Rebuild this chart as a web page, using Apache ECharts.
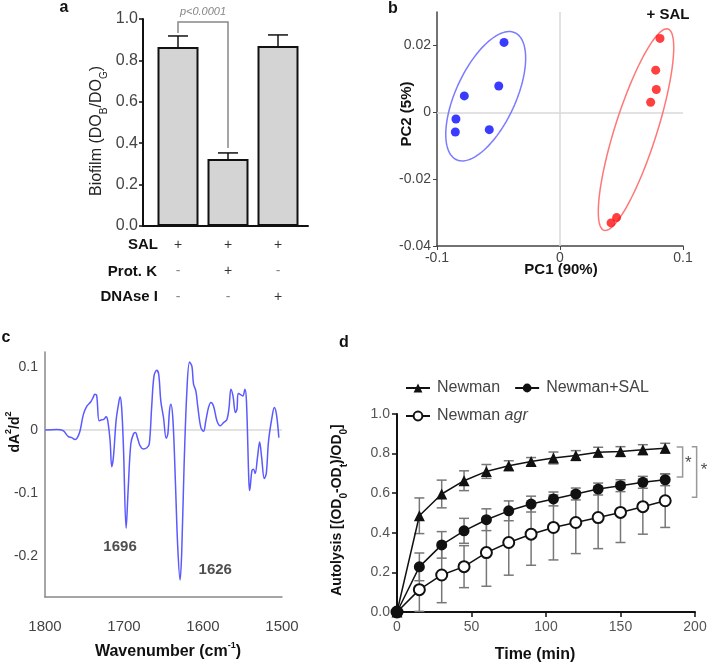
<!DOCTYPE html>
<html><head><meta charset="utf-8">
<script src="https://cdn.jsdelivr.net/npm/echarts@6/dist/echarts.min.js"></script>
<style>html,body{margin:0;padding:0;background:#fff}#main{width:708px;height:662px}</style>
</head><body><div id="main"></div>
<script>
// ---------- Panel a data ----------
const aPositions = [1, 2, 3];
const aMeans = [0.865, 0.324, 0.870];
const aErrors = [0.053, 0.029, 0.053];
const aRowLabels = ['SAL', 'Prot. K', 'DNAse I'];
const aSigns = [['+', '-', '-'], ['+', '+', '-'], ['+', '-', '+']];
const aBracket = [[1, 0.932], [1, 0.985], [2, 0.985], [2, 0.377]];
const aPLabel = [[1.5, 1.035]];
const aYTicks = [0, 0.2, 0.4, 0.6, 0.8, 1.0];

// ---------- Panel b data ----------
const bUntreated = [[-0.0455, 0.0209], [-0.0498, 0.00785], [-0.0778, 0.0049], [-0.0846, -0.0020], [-0.0851, -0.0059], [-0.0575, -0.0052]];
const bSAL = [[0.0813, 0.0221], [0.0778, 0.0126], [0.0783, 0.0068], [0.0737, 0.0030], [0.0460, -0.0315], [0.0415, -0.0331]];
const bBlueEllipseCenter = [-0.0604, 0.0048];
const bBlueEllipseAxisU = [0.0237, 0.0190];
const bBlueEllipseAxisV = [0.0222, -0.00362];
const bRedEllipseCenter = [0.0618, -0.0052];
const bRedEllipseAxisU = [0.0260, 0.0301];
const bRedEllipseAxisV = [0.01627, -0.00184];
const bXTicks = [-0.1, 0, 0.1];
const bYTicks = [-0.04, -0.02, 0, 0.02];

// ---------- Panel c data ----------
const cWavenumber = [1800,1785,1777,1770.4,1766,1762,1759,1755.6,1751.4,1747,1742,1739,1737,1734.6,1731.6,1729,1725.5,1722.7,1720.6,1717.6,1715.5,1713.4,1710,1707,1705,1703,1700.7,1697.3,1694.8,1691.4,1688,1685.5,1683,1679.6,1675.4,1671,1668,1665,1662,1658.5,1656,1653.4,1650,1646.6,1644.5,1642.4,1640.7,1638,1635,1632,1629,1627,1624,1620.4,1617,1614,1612,1609,1606.5,1602.7,1599.3,1596.4,1593,1590,1586.6,1582.4,1578,1573.9,1569.7,1567,1564.7,1562,1559,1557,1555.4,1552,1549.5,1547,1545,1542,1541,1538,1536,1534,1531,1528.3,1525.8,1522.4,1519.9,1517,1512.7,1509.7,1507,1504];
const cSecondDeriv = [0,0.001,-0.001,-0.0105,-0.012,-0.015,-0.012,-0.001,0.025,0.038,0.045,0.052,0.057,0.055,0.015,0.016,0.017,0.021,0.015,-0.017,-0.058,-0.043,0.015,0.041,0.053,0.036,-0.027,-0.156,-0.096,-0.022,-0.006,-0.004,-0.012,-0.025,-0.030,-0.028,-0.022,0.036,0.086,0.095,0.088,0.046,0.020,-0.013,-0.006,0.031,0.041,0.015,-0.080,-0.185,-0.238,-0.196,-0.059,0.062,0.108,0.101,0.073,0.062,0.036,0.004,-0.002,0.015,0.036,0.044,0.038,0.015,0.007,0.012,0.017,0.036,0.065,0.054,0.028,0.033,0.058,0.056,0.054,0.065,0.046,-0.080,-0.096,-0.064,-0.062,-0.069,-0.043,-0.019,-0.043,-0.077,-0.069,-0.017,0.020,0.036,0.025,-0.012];
const cPeakLabels = [{ name: '1696', value: [1705, -0.186] }, { name: '1626', value: [1584.5, -0.222] }];
const cXTicks = [1500, 1600, 1700, 1800];
const cYTicks = [-0.2, -0.1, 0, 0.1];

// ---------- Panel d data ----------
const dTime = [0, 15, 30, 45, 60, 75, 90, 105, 120, 135, 150, 165, 180];
const dNewman = [0, 0.486, 0.596, 0.663, 0.710, 0.739, 0.760, 0.778, 0.790, 0.807, 0.810, 0.820, 0.827];
const dNewmanErr = [0, 0.09, 0.07, 0.05, 0.035, 0.025, 0.02, 0.03, 0.025, 0.025, 0.025, 0.025, 0.025];
const dNewmanSAL = [0, 0.228, 0.339, 0.410, 0.466, 0.511, 0.545, 0.571, 0.596, 0.621, 0.638, 0.655, 0.668];
const dNewmanSALErr = [0, 0.07, 0.067, 0.063, 0.055, 0.05, 0.04, 0.035, 0.03, 0.03, 0.03, 0.03, 0.03];
const dNewmanAgr = [0, 0.113, 0.187, 0.229, 0.300, 0.351, 0.393, 0.427, 0.452, 0.477, 0.503, 0.532, 0.562];
const dNewmanAgrErr = [0, 0.11, 0.14, 0.106, 0.17, 0.165, 0.157, 0.164, 0.157, 0.157, 0.152, 0.139, 0.135];
const dSeriesNames = ['Newman', 'Newman+SAL', 'Newman agr'];
const dBracket1 = [[187.7, 0.833], [191.7, 0.833], [191.7, 0.682], [187.7, 0.682]];
const dBracket2 = [[197.8, 0.835], [201.1, 0.835], [201.1, 0.579], [197.8, 0.579]];
const dStars = [[195.5, 0.752], [206, 0.716]];

// ---------- build ----------
const FONT = "'Liberation Sans', Arial, Helvetica, sans-serif";
const chart = echarts.init(document.getElementById('main'), null, { renderer: 'canvas' });

function polyRender(points, color, width) {
  return function (params, api) {
    const pts = points.map(p => api.coord(p));
    return { type: 'polyline', shape: { points: pts }, style: { stroke: color, lineWidth: width, fill: null }, silent: true };
  };
}
function ellipseRender(center, u, v, color) {
  return function (params, api) {
    const pts = [];
    for (let i = 0; i <= 120; i++) {
      const t = i / 120 * Math.PI * 2;
      pts.push(api.coord([center[0] + u[0] * Math.cos(t) + v[0] * Math.sin(t), center[1] + u[1] * Math.cos(t) + v[1] * Math.sin(t)]));
    }
    return { type: 'polyline', shape: { points: pts }, style: { stroke: color, lineWidth: 1.5, fill: null }, silent: true };
  };
}
function errData(means, errs, xs) { return xs.map((x, i) => [x, means[i], errs[i]]); }
function errRender(color, capHalf, upOnly, width) {
  return function (params, api) {
    const x = api.value(0), m = api.value(1), e = api.value(2);
    if (!e) return null;
    const top = api.coord([x, m + e]);
    const bot = api.coord([x, upOnly ? m : m - e]);
    const children = [
      { type: 'line', shape: { x1: top[0], y1: top[1], x2: bot[0], y2: bot[1] }, style: { stroke: color, lineWidth: width } },
      { type: 'line', shape: { x1: top[0] - capHalf, y1: top[1], x2: top[0] + capHalf, y2: top[1] }, style: { stroke: color, lineWidth: width } }
    ];
    if (!upOnly) children.push({ type: 'line', shape: { x1: bot[0] - capHalf, y1: bot[1], x2: bot[0] + capHalf, y2: bot[1] }, style: { stroke: color, lineWidth: width } });
    return { type: 'group', children: children, silent: true };
  };
}
function fmtTick(d) { return v => (Math.abs(v) < 1e-12 ? '0' : v.toFixed(d)); }

const subRich = {
  s: { fontSize: 10, verticalAlign: 'bottom', lineHeight: 24, fontFamily: FONT },
  sup: { fontSize: 9, verticalAlign: 'top', lineHeight: 22, fontFamily: FONT }
};
function gtext(x, y, text, size, weight, opts) {
  opts = opts || {};
  const rich = {};
  for (const k in subRich) rich[k] = Object.assign({}, subRich[k], { fontWeight: weight, fill: opts.color || '#111' });
  return {
    type: 'text', x: x, y: y, rotation: opts.rot ? Math.PI / 2 : 0, silent: true,
    style: { text: text, fontFamily: FONT, fontSize: size, fontWeight: weight, fill: opts.color || '#111', align: opts.align || 'center', verticalAlign: 'middle', rich: rich, lineHeight: size + 4 }
  };
}

const option = {
  backgroundColor: '#fff',
  animation: false,
  textStyle: { fontFamily: FONT },
  grid: [
    { left: 143, top: 19, width: 165, height: 207, outerBoundsMode: 'none', containLabel: false },
    { left: 437, top: 12, width: 246, height: 234, outerBoundsMode: 'none', containLabel: false },
    { left: 45, top: 352, width: 237, height: 245, outerBoundsMode: 'none', containLabel: false },
    { left: 397, top: 414, width: 298, height: 198, outerBoundsMode: 'none', containLabel: false }
  ],
  xAxis: [
    { gridIndex: 0, type: 'value', min: 0.3, max: 3.6,
      axisLine: { lineStyle: { color: '#111', width: 2 } }, axisTick: { show: false }, splitLine: { show: false },
      axisLabel: { customValues: aPositions, margin: 6, interval: 0,
        formatter: v => aSigns[Math.round(v) - 1].map(s => s === '+' ? '{p|+}' : '{m|-}').join('\n'),
        rich: { p: { fontSize: 14, color: '#333', lineHeight: 26, fontFamily: FONT }, m: { fontSize: 14, color: '#888', lineHeight: 26, fontFamily: FONT } } } },
    { gridIndex: 1, type: 'value', min: -0.1, max: 0.1, interval: 0.1,
      axisLine: { onZero: false, lineStyle: { color: '#444', width: 1.5 } }, axisTick: { show: true, length: 4, lineStyle: { color: '#444' } },
      splitLine: { show: false }, axisLabel: { formatter: fmtTick(1), fontSize: 14, color: '#444', margin: 5 } },
    { gridIndex: 2, type: 'value', min: 1500, max: 1800, inverse: true,
      axisLine: { onZero: false, lineStyle: { color: '#888', width: 1.5 } }, axisTick: { show: false }, splitLine: { show: false },
      axisLabel: { customValues: cXTicks, formatter: v => String(Math.round(v)), fontSize: 15, color: '#444', margin: 22 } },
    { gridIndex: 3, type: 'value', min: 0, max: 200, interval: 50,
      axisLine: { onZero: false, lineStyle: { color: '#111', width: 2 } }, axisTick: { show: true, length: 5, lineStyle: { color: '#111', width: 1.5 } },
      splitLine: { show: false }, axisLabel: { fontSize: 14, color: '#555', margin: 8 } }
  ],
  yAxis: [
    { gridIndex: 0, type: 'value', min: 0, max: 1, interval: 0.2,
      axisLine: { show: true, lineStyle: { color: '#111', width: 2 } }, axisTick: { show: true, length: 4, lineStyle: { color: '#111', width: 1.5 } },
      splitLine: { show: false }, axisLabel: { formatter: v => v.toFixed(1), fontSize: 16, color: '#444', margin: 5 } },
    { gridIndex: 1, type: 'value', min: -0.04, max: 0.03,
      axisLine: { show: true, onZero: false, lineStyle: { color: '#444', width: 1.5 } }, axisTick: { show: true, length: 4, customValues: bYTicks, lineStyle: { color: '#444' } },
      splitLine: { show: false }, axisLabel: { customValues: bYTicks, formatter: fmtTick(2), fontSize: 14, color: '#444', margin: 6 } },
    { gridIndex: 2, type: 'value', min: -0.265, max: 0.124,
      axisLine: { show: true, onZero: false, lineStyle: { color: '#888', width: 1.5 } }, axisTick: { show: false },
      splitLine: { show: false }, axisLabel: { customValues: cYTicks, formatter: fmtTick(1), fontSize: 14, color: '#444', margin: 7 } },
    { gridIndex: 3, type: 'value', min: 0, max: 1, interval: 0.2,
      axisLine: { show: true, onZero: false, lineStyle: { color: '#111', width: 2 } }, axisTick: { show: true, length: 5, lineStyle: { color: '#111', width: 1.5 } },
      splitLine: { show: false }, axisLabel: { formatter: v => v.toFixed(1), fontSize: 14, color: '#555', margin: 7 } }
  ],
  legend: [
    { data: ['Newman', 'Newman+SAL'], left: 400, top: 375, orient: 'horizontal', itemWidth: 24, itemHeight: 11, itemGap: 14,
      textStyle: { fontSize: 16, color: '#444', fontFamily: FONT, padding: [0, 0, 0, 2] }, selectedMode: false },
    { data: ['Newman agr'], left: 400, top: 403, itemWidth: 24, itemHeight: 11,
      formatter: n => n.replace(' agr', ' {i|agr}'),
      textStyle: { fontSize: 16, color: '#444', fontFamily: FONT, padding: [0, 0, 0, 2], rich: { i: { fontSize: 16, fontStyle: 'italic', color: '#444', fontFamily: FONT } } }, selectedMode: false }
  ],
  series: [
    // panel a
    { type: 'bar', xAxisIndex: 0, yAxisIndex: 0, barWidth: 41, data: aPositions.map((x, i) => [x, aMeans[i]]),
      itemStyle: { color: '#d4d4d4', borderColor: '#111', borderWidth: 2 }, z: 2 },
    { type: 'custom', xAxisIndex: 0, yAxisIndex: 0, data: errData(aMeans, aErrors, aPositions), renderItem: errRender('#111', 10, true, 1.5), clip: false, z: 3 },
    { type: 'custom', xAxisIndex: 0, yAxisIndex: 0, data: [0], renderItem: polyRender(aBracket, '#888', 1.5), clip: false, z: 3 },
    { type: 'scatter', xAxisIndex: 0, yAxisIndex: 0, data: aPLabel, symbolSize: 1, itemStyle: { color: 'transparent' }, clip: false,
      label: { show: true, position: 'inside', formatter: 'p<0.0001', fontSize: 11, fontStyle: 'italic', color: '#666' } },
    // panel b
    { type: 'custom', xAxisIndex: 1, yAxisIndex: 1, data: [0], renderItem: ellipseRender(bBlueEllipseCenter, bBlueEllipseAxisU, bBlueEllipseAxisV, '#7b7bff'), clip: false, z: 2 },
    { type: 'custom', xAxisIndex: 1, yAxisIndex: 1, data: [0], renderItem: ellipseRender(bRedEllipseCenter, bRedEllipseAxisU, bRedEllipseAxisV, '#ff7777'), clip: false, z: 2 },
    { type: 'scatter', xAxisIndex: 1, yAxisIndex: 1, data: bUntreated, symbolSize: 9, itemStyle: { color: '#0a0aff' }, z: 4,
      markLine: { silent: true, symbol: 'none', label: { show: false }, lineStyle: { color: '#d8d8d8', type: 'solid', width: 1.5 }, data: [{ xAxis: 0 }, { yAxis: 0 }], z: 1 } },
    { type: 'scatter', xAxisIndex: 1, yAxisIndex: 1, data: bSAL, symbolSize: 9, itemStyle: { color: '#ff1010' }, z: 4 },
    // panel c
    { type: 'line', xAxisIndex: 2, yAxisIndex: 2, data: cWavenumber.map((w, i) => [w, cSecondDeriv[i]]), smooth: 0.35, showSymbol: false,
      lineStyle: { color: '#5a5aff', width: 1.5 }, z: 3,
      markLine: { silent: true, symbol: 'none', label: { show: false }, lineStyle: { color: '#d8d8d8', type: 'solid', width: 1.5 }, data: [{ yAxis: 0 }], z: 1 } },
    { type: 'scatter', xAxisIndex: 2, yAxisIndex: 2, data: cPeakLabels, symbolSize: 1, itemStyle: { color: 'transparent' }, clip: false,
      label: { show: true, position: 'inside', formatter: '{b}', fontSize: 15, fontWeight: 'bold', color: '#222' } },
    // panel d
    { type: 'custom', xAxisIndex: 3, yAxisIndex: 3, data: errData(dNewmanAgr, dNewmanAgrErr, dTime), renderItem: errRender('#777', 5, false, 1.5), clip: false, z: 1 },
    { type: 'custom', xAxisIndex: 3, yAxisIndex: 3, data: errData(dNewmanSAL, dNewmanSALErr, dTime), renderItem: errRender('#777', 5, false, 1.5), clip: false, z: 1 },
    { type: 'custom', xAxisIndex: 3, yAxisIndex: 3, data: errData(dNewman, dNewmanErr, dTime), renderItem: errRender('#777', 5, false, 1.5), clip: false, z: 1 },
    { name: dSeriesNames[2], type: 'line', xAxisIndex: 3, yAxisIndex: 3, data: dTime.map((t, i) => [t, dNewmanAgr[i]]), symbol: 'emptyCircle', symbolSize: 11,
      itemStyle: { color: '#111', borderWidth: 1.5 }, lineStyle: { color: '#111', width: 1.5 }, clip: false, z: 3 },
    { name: dSeriesNames[1], type: 'line', xAxisIndex: 3, yAxisIndex: 3, data: dTime.map((t, i) => [t, dNewmanSAL[i]]), symbol: 'circle', symbolSize: 11,
      itemStyle: { color: '#111' }, lineStyle: { color: '#111', width: 1.5 }, clip: false, z: 3 },
    { name: dSeriesNames[0], type: 'line', xAxisIndex: 3, yAxisIndex: 3, data: dTime.map((t, i) => [t, dNewman[i]]), symbol: 'triangle', symbolSize: 11,
      itemStyle: { color: '#111' }, lineStyle: { color: '#111', width: 1.5 }, clip: false, z: 3 },
    { type: 'custom', xAxisIndex: 3, yAxisIndex: 3, data: [0], renderItem: polyRender(dBracket1, '#999', 1.5), clip: false },
    { type: 'custom', xAxisIndex: 3, yAxisIndex: 3, data: [0], renderItem: polyRender(dBracket2, '#999', 1.5), clip: false },
    { type: 'scatter', xAxisIndex: 3, yAxisIndex: 3, data: dStars, symbolSize: 1, itemStyle: { color: 'transparent' }, clip: false,
      label: { show: true, position: 'inside', formatter: '*', fontSize: 17, color: '#222' } }
  ],
  graphic: [
    gtext(64, 8, 'a', 16, 'bold'),
    gtext(393, 9, 'b', 16, 'bold'),
    gtext(6, 338, 'c', 16, 'bold'),
    gtext(344, 343, 'd', 16, 'bold'),
    gtext(97, 131, 'Biofilm (DO{s|B}/DO{s|G})', 16, 'normal', { rot: true, color: '#222' }),
    gtext(158, 245, aRowLabels[0], 15, 'bold', { align: 'right' }),
    gtext(157, 272, aRowLabels[1], 15, 'bold', { align: 'right' }),
    gtext(158, 297, aRowLabels[2], 15, 'bold', { align: 'right' }),
    gtext(668, 15, '+ SAL', 15, 'bold'),
    gtext(407, 114, 'PC2 (5%)', 15, 'bold', { rot: true }),
    gtext(561, 270, 'PC1 (90%)', 15, 'bold'),
    gtext(15, 432, 'dA{sup|2}/d{sup|2}', 14, 'bold', { rot: true }),
    gtext(168, 652, 'Wavenumber (cm{sup|-1})', 16, 'bold'),
    gtext(337, 510, 'Autolysis [(OD{s|0}-OD{s|t})/OD{s|0}]', 14, 'bold', { rot: true }),
    gtext(535, 655, 'Time (min)', 16, 'bold')
  ]
};
chart.setOption(option);
</script></body></html>
